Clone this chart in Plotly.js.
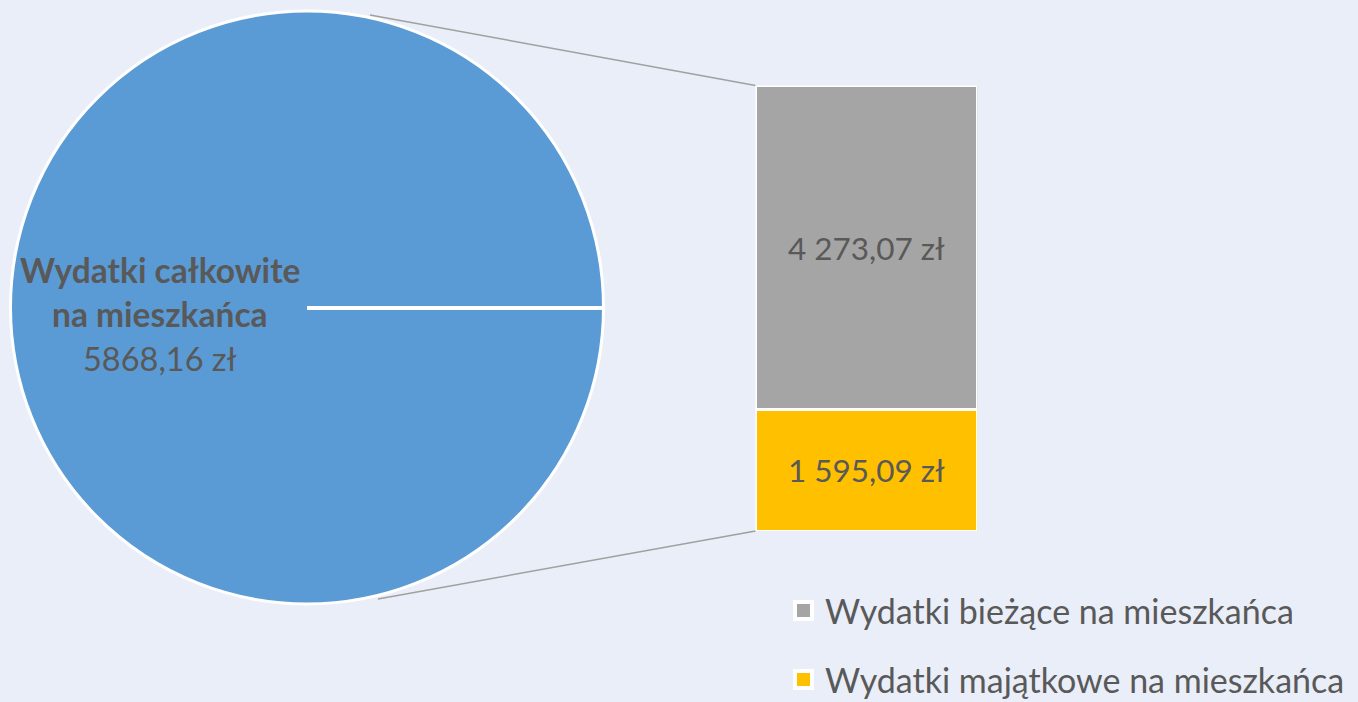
<!DOCTYPE html>
<html>
<head>
<meta charset="utf-8">
<script src="https://cdn.plot.ly/plotly-3.0.1.min.js"></script>
<style>
  html, body { margin: 0; padding: 0; background: #E9EEF8; }
  #chart { width: 1358px; height: 702px; }
</style>
</head>
<body>
<div id="chart"></div>
<script>
// ---- data ----
const pieLabelLines = ['Wydatki całkowite', 'na mieszkańca'];
const pieTotal = 5868.16;
const barCategories = ['Wydatki majątkowe na mieszkańca', 'Wydatki bieżące na mieszkańca'];
const barValues = [1595.09, 4273.07];
const barColors = ['#FFC000', '#A5A5A5'];
const pieColor = '#5B9BD5';
const legendOrder = ['Wydatki bieżące na mieszkańca', 'Wydatki majątkowe na mieszkańca'];

// ---- layout helpers (pixel -> paper) ----
const W = 1358, H = 702;
const px = v => v / W;
const py = v => (H - v) / H;

const FONT = 'Lato, "Open Sans", sans-serif';
const TXT = '#595959';

const pieDomainX = [px(10.5), px(603.5)];
const pieDomainY = [py(604), py(11)];
const barDomainX = [px(755.5), px(977.5)];
const barDomainY = [py(531), py(85.5)];

const traces = [];
traces.push({
  type: 'pie',
  values: [pieTotal],
  labels: [pieLabelLines.join(' ')],
  marker: { colors: [pieColor], line: { color: '#FFFFFF', width: 3 } },
  textinfo: 'none',
  hoverinfo: 'skip',
  sort: false,
  showlegend: false,
  domain: { x: pieDomainX, y: pieDomainY }
});

barCategories.forEach((name, i) => {
  traces.push({
    type: 'bar',
    name: name,
    x: [0],
    y: [barValues[i]],
    width: [1],
    xaxis: 'x',
    yaxis: 'y',
    marker: { color: barColors[i], line: { color: '#FFFFFF', width: 3 } },
    texttemplate: '%{y:,.2f} zł',
    textposition: 'inside',
    insidetextanchor: 'middle',
    textangle: 0,
    constraintext: 'none',
    textfont: { family: FONT, size: 31.5, color: TXT },
    hoverinfo: 'skip',
    showlegend: false
  });
});

const annotations = [];
const shapes = [];

// pie label
const labelY = [270, 314];
pieLabelLines.forEach((t, i) => {
  annotations.push({
    xref: 'paper', yref: 'paper', x: px(160), y: py(labelY[i]),
    xanchor: 'center', yanchor: 'middle', showarrow: false,
    text: '<b>' + t + '</b>',
    font: { family: FONT, size: 33.5, color: TXT }
  });
});
annotations.push({
  xref: 'paper', yref: 'paper', x: px(160), y: py(358),
  xanchor: 'center', yanchor: 'middle', showarrow: false,
  text: pieTotal.toFixed(2).replace('.', ',') + ' zł',
  font: { family: FONT, size: 32.5, color: TXT }
});

// radial white line of the pie (slice boundary)
shapes.push({
  type: 'line', xref: 'paper', yref: 'paper', layer: 'above',
  x0: px(307), y0: py(308), x1: px(604), y1: py(308),
  line: { color: '#FFFFFF', width: 4 }
});

// connector lines from pie to bar
shapes.push({
  type: 'line', xref: 'paper', yref: 'paper', layer: 'below',
  x0: px(370), y0: py(15), x1: barDomainX[0], y1: barDomainY[1],
  line: { color: '#A0A0A0', width: 1.5 }
});
shapes.push({
  type: 'line', xref: 'paper', yref: 'paper', layer: 'below',
  x0: px(378), y0: py(599), x1: barDomainX[0], y1: barDomainY[0],
  line: { color: '#A0A0A0', width: 1.5 }
});

// legend (custom)
const legendY = [610.5, 679.5];
legendOrder.forEach((name, i) => {
  const c = barColors[barCategories.indexOf(name)];
  shapes.push({
    type: 'rect', xref: 'paper', yref: 'paper', layer: 'above',
    x0: px(795), x1: px(812), y0: py(legendY[i] + 8.5), y1: py(legendY[i] - 8.5),
    fillcolor: c, line: { color: '#FFFFFF', width: 4 }
  });
  annotations.push({
    xref: 'paper', yref: 'paper', x: px(823), y: py(legendY[i]),
    xanchor: 'left', yanchor: 'middle', showarrow: false,
    text: name,
    font: { family: FONT, size: 34, color: TXT }
  });
});

const layout = {
  width: W, height: H,
  margin: { l: 0, r: 0, t: 0, b: 0, pad: 0 },
  paper_bgcolor: '#E9EEF8',
  plot_bgcolor: 'rgba(0,0,0,0)',
  separators: ', ',
  barmode: 'stack',
  bargap: 0,
  showlegend: false,
  xaxis: { domain: barDomainX, range: [-0.5, 0.5], visible: false, fixedrange: true },
  yaxis: { domain: barDomainY, range: [0, pieTotal], visible: false, fixedrange: true },
  annotations: annotations,
  shapes: shapes,
  font: { family: FONT, color: TXT }
};

Plotly.newPlot('chart', traces, layout, { staticPlot: true, displayModeBar: false });
</script>
</body>
</html>
